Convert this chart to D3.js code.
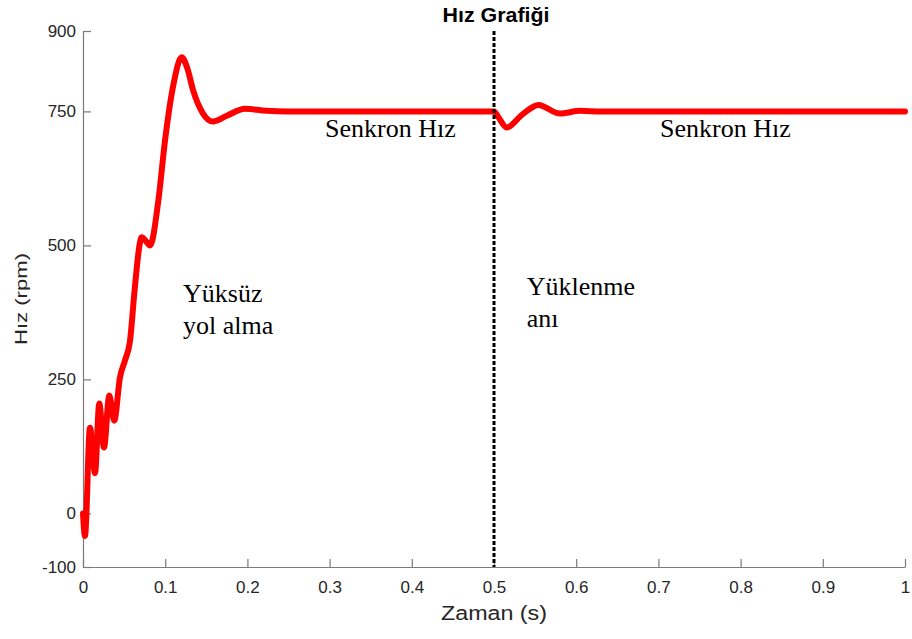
<!DOCTYPE html>
<html>
<head>
<meta charset="utf-8">
<script src="https://cdn.jsdelivr.net/npm/d3@7"></script>
<style>
  body { margin: 0; background: #fff; }
  svg { display: block; }
</style>
</head>
<body>
<svg id="canvas"></svg>
<script>
// zaman (s) ve hız (rpm) değerleri
const zaman = [0, 0.0024, 0.0085, 0.0146, 0.0198, 0.0255, 0.032, 0.038, 0.045, 0.051,
    0.057, 0.063, 0.069, 0.0714, 0.0765, 0.0815, 0.0917, 0.0998, 0.110, 0.120,
    0.127, 0.134, 0.146, 0.158, 0.175, 0.197, 0.223, 0.25, 0.5, 0.505,
    0.5154, 0.535, 0.554, 0.580, 0.605, 0.63, 1.0];
const hiz = [0, -42, 160, 75, 205, 123, 220, 173, 254, 285,
    320, 420, 503, 515, 508, 500, 584, 696, 800, 851,
    830, 789, 746, 731, 742, 755, 751, 750, 750, 740,
    720, 745, 762, 746, 751, 750, 750];

const xTicks = [0, 0.1, 0.2, 0.3, 0.4, 0.5, 0.6, 0.7, 0.8, 0.9, 1];
const yTicks = [-100, 0, 250, 500, 750, 900];
const yukleme = 0.5;

const notlar = [
    { x: 0.2944, y: 702, lines: ["Senkron Hız"] },
    { x: 0.702, y: 702, lines: ["Senkron Hız"] },
    { x: 0.1217, y: 394, lines: ["Yüksüz", "yol alma"] },
    { x: 0.5398, y: 407, lines: ["Yüklenme", "anı"] }
];

const margins = { top: 31, right: 7, bottom: 72, left: 83 };
const width = 912 - margins.left - margins.right;
const height = 639 - margins.top - margins.bottom;

const svg = d3.select("#canvas")
    .attr("width", 912)
    .attr("height", 639)
    .append("g")
    .attr("transform", "translate(" + margins.left + "," + margins.top + ")");

const x = d3.scaleLinear().domain([0, 1]).range([0, width]);
const y = d3.scaleLinear().domain([-100, 900]).range([height, 0]);

const axisColor = "#7a7a7a";
const textColor = "#262626";
const sans = "'Liberation Sans', Arial, sans-serif";

const xAxis = svg.append("g")
    .attr("transform", "translate(0," + height + ")")
    .call(d3.axisBottom(x).tickValues(xTicks).tickFormat(d => String(d)).tickSizeInner(-8).tickSizeOuter(0).tickPadding(14));

const yAxis = svg.append("g")
    .call(d3.axisLeft(y).tickValues(yTicks).tickFormat(d => String(d)).tickSizeInner(-8).tickSizeOuter(0).tickPadding(7));

[xAxis, yAxis].forEach(a => {
    a.select(".domain").attr("stroke", axisColor).attr("stroke-width", 1.2);
    a.selectAll(".tick line").attr("stroke", axisColor).attr("stroke-width", 1.2);
    a.selectAll(".tick text")
        .attr("fill", textColor)
        .style("font-family", sans)
        .style("font-size", "17px");
});

// hız eğrisi
const line = d3.line()
    .x((d, i) => x(zaman[i]))
    .y(d => y(d))
    .curve(d3.curveMonotoneX);

svg.append("path")
    .datum(hiz)
    .attr("d", line)
    .attr("fill", "none")
    .attr("stroke", "#ff0000")
    .attr("stroke-width", 6)
    .attr("stroke-linejoin", "round")
    .attr("stroke-linecap", "round");

// yüklenme anı çizgisi
svg.append("line")
    .attr("x1", x(yukleme)).attr("x2", x(yukleme))
    .attr("y1", 0).attr("y2", height)
    .attr("stroke", "#000")
    .attr("stroke-width", 3)
    .attr("stroke-dasharray", "4,2");

// notlar
notlar.forEach(n => {
    const t = svg.append("text")
        .attr("x", x(n.x))
        .attr("y", y(n.y))
        .attr("fill", "#000")
        .style("font-family", "'Liberation Serif', 'Times New Roman', serif")
        .style("font-size", "26px");
    n.lines.forEach((l, i) => {
        t.append("tspan").attr("x", x(n.x)).attr("dy", i === 0 ? 0 : 31.5).text(l);
    });
});

// başlık ve eksen adları
svg.append("text")
    .attr("x", x(0.5) + 2)
    .attr("y", 21.7 - margins.top)
    .attr("text-anchor", "middle")
    .attr("fill", "#000")
    .style("font-family", sans)
    .style("font-weight", "bold")
    .style("font-size", "20px")
    .attr("textLength", 107)
    .attr("lengthAdjust", "spacingAndGlyphs")
    .text("Hız Grafiği");

svg.append("text")
    .attr("x", x(0.5))
    .attr("y", height + 53)
    .attr("text-anchor", "middle")
    .attr("fill", textColor)
    .style("font-family", sans)
    .style("font-size", "20px")
    .attr("textLength", 106)
    .attr("lengthAdjust", "spacingAndGlyphs")
    .text("Zaman (s)");

svg.append("text")
    .attr("transform", "translate(" + (26.7 - margins.left) + "," + (height / 2) + ") rotate(-90)")
    .attr("text-anchor", "middle")
    .attr("fill", textColor)
    .style("font-family", sans)
    .style("font-size", "17px")
    .attr("textLength", 92)
    .attr("lengthAdjust", "spacingAndGlyphs")
    .text("Hız (rpm)");
</script>
</body>
</html>
